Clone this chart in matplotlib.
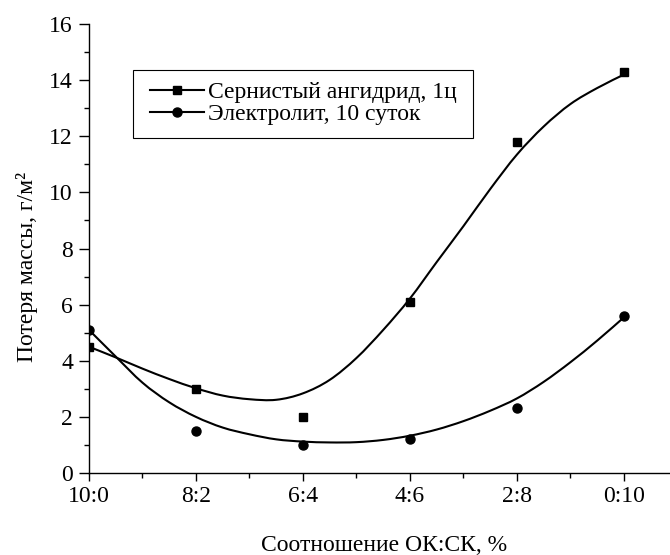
import matplotlib
matplotlib.use("Agg")
import matplotlib.pyplot as plt
from matplotlib.lines import Line2D
from matplotlib.patches import PathPatch, Rectangle
from matplotlib.path import Path
from matplotlib.ticker import MultipleLocator

plt.rcParams["font.family"] = ["Liberation Serif", "DejaVu Serif"]

# measured points
ratio_labels = ["10:0", "8:2", "6:4", "4:6", "2:8", "0:10"]
x_points = [0, 1, 2, 3, 4, 5]
so2_points = [4.5, 3.0, 2.0, 6.1, 11.8, 14.3]
electrolyte_points = [5.1, 1.5, 1.0, 1.2, 2.3, 5.6]

# smoothed curves
x_curve = [0, 0.25, 0.5, 0.75, 1.0, 1.25, 1.5, 1.75, 2.0, 2.25, 2.5,
           2.75, 3.0, 3.25, 3.5, 3.75, 4.0, 4.25, 4.5, 4.75, 5.0]
so2_curve = [4.50, 4.12, 3.72, 3.35, 3.02, 2.76, 2.63, 2.61, 2.84, 3.32, 4.10,
             5.10, 6.22, 7.52, 8.80, 10.12, 11.35, 12.35, 13.15, 13.72, 14.20]
electrolyte_curve = [5.10, 4.15, 3.22, 2.52, 2.00, 1.62, 1.38, 1.20, 1.12, 1.09, 1.10,
                     1.18, 1.33, 1.55, 1.85, 2.22, 2.66, 3.25, 3.95, 4.72, 5.55]

FS = 17


def smooth_path(xs, ys):
    """Bezier path through the read points (Catmull-Rom tangents)."""
    pts = list(zip(xs, ys))
    verts = [pts[0]]
    codes = [Path.MOVETO]
    n = len(pts)
    for i in range(n - 1):
        p0 = pts[max(i - 1, 0)]
        p1 = pts[i]
        p2 = pts[i + 1]
        p3 = pts[min(i + 2, n - 1)]
        c1 = (p1[0] + (p2[0] - p0[0]) / 6, p1[1] + (p2[1] - p0[1]) / 6)
        c2 = (p2[0] - (p3[0] - p1[0]) / 6, p2[1] - (p3[1] - p1[1]) / 6)
        verts += [c1, c2, p2]
        codes += [Path.CURVE4] * 3
    return Path(verts, codes)


fig = plt.figure(figsize=(6.7, 5.55), dpi=100)
ax = fig.add_axes([0.1328, 0.1477, 0.8672, 0.809])

for ys in (so2_curve, electrolyte_curve):
    ax.add_patch(PathPatch(smooth_path(x_curve, ys), fill=False, edgecolor="black", lw=1.5))
ax.plot(x_points, so2_points, ls="none", marker="s", ms=5.8, color="black")
ax.plot(x_points, electrolyte_points, ls="none", marker="o", ms=6.5, color="black")

ax.set_xlim(0, 5.43)
ax.set_ylim(0, 16)
ax.set_xticks(x_points)
ax.set_xticklabels(ratio_labels)
ax.xaxis.set_minor_locator(MultipleLocator(0.5))
ax.yaxis.set_major_locator(MultipleLocator(2))
ax.yaxis.set_minor_locator(MultipleLocator(1))

for side in ("top", "right"):
    ax.spines[side].set_visible(False)
for side in ("left", "bottom"):
    ax.spines[side].set_linewidth(1.0)

ax.tick_params(which="major", direction="out", length=7, width=1.0, labelsize=FS, pad=4.5)
ax.tick_params(which="minor", direction="out", length=3.8, width=1.0)
ax.tick_params(axis="x", which="major", length=5.5, pad=3.5)

ax.set_xlabel("Соотношение ОК:СК, %", fontsize=FS, va="top")
ax.set_ylabel("Потеря массы, г/м²", fontsize=FS)
ax.xaxis.set_label_coords(0.508, -0.138)
ax.yaxis.set_label_coords(-0.088, 0.46)

handles = [
    Line2D([], [], color="black", lw=1.5, marker="s", ms=5.8),
    Line2D([], [], color="black", lw=1.5, marker="o", ms=6.5),
]
labels = ["Сернистый ангидрид, 1ц", "Электролит, 10 суток"]
ax.legend(handles, labels, loc="upper left", bbox_to_anchor=(0.105, 0.872),
          borderaxespad=0, borderpad=0, fontsize=FS, frameon=False,
          handlelength=2.3, handletextpad=0.15, labelspacing=0.02, numpoints=1)
ax.add_patch(Rectangle((0.0757, 0.746), 0.585, 0.1516, transform=ax.transAxes,
                       fill=False, edgecolor="black", lw=0.8, clip_on=False))

fig.savefig("out.png", dpi=100)
